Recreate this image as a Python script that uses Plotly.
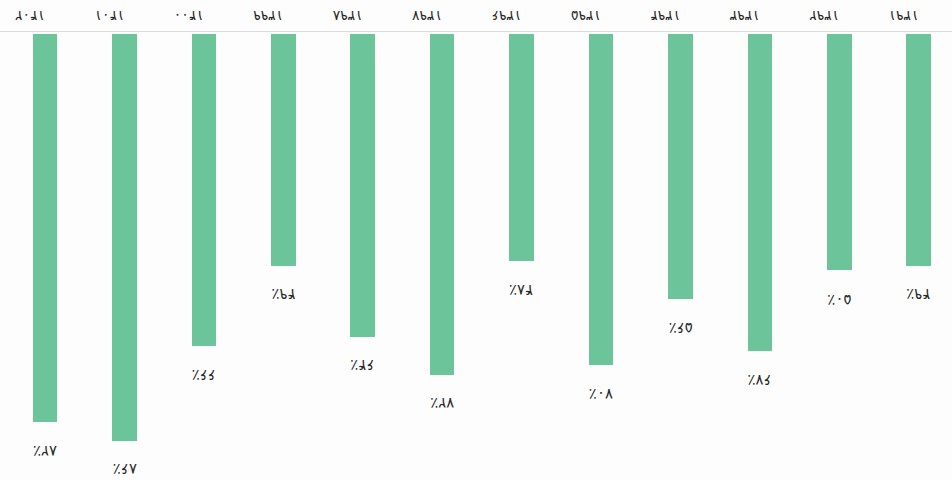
import plotly.graph_objects as go

# Years (solar Hijri) and share per year, in percent
years = [1391, 1392, 1393, 1394, 1395, 1396, 1397, 1398, 1399, 1400, 1401, 1402]
shares = [49, 50, 67, 56, 70, 48, 72, 64, 49, 66, 86, 82]

FA_DIGITS = str.maketrans("0123456789", "۰۱۲۳۴۵۶۷۸۹")


def fa(n):
    return str(n).translate(FA_DIGITS)


year_labels = [fa(y) for y in years]
value_labels = [fa(v) + "٪" for v in shares]

BAR = "#6cc49b"
TEXT = "#2a2a2a"
FONT = "DejaVu Sans"

fig = go.Figure(
    go.Bar(
        x=year_labels,
        y=shares,
        width=0.31,
        marker=dict(color=BAR, line=dict(width=0)),
        hoverinfo="skip",
    )
)

# value labels just past the end of each bar, drawn upside down
for lbl, v, t in zip(year_labels, shares, value_labels):
    fig.add_annotation(
        x=lbl, y=v, xref="x", yref="y",
        text=t, showarrow=False, textangle=180,
        yshift=-29, yanchor="middle",
        font=dict(family=FONT, size=15, color=TEXT),
    )

fig.update_layout(
    width=952, height=480,
    margin=dict(l=0, r=0, t=32, b=0),
    paper_bgcolor="#fdfdfd",
    plot_bgcolor="#fdfdfd",
    showlegend=False,
    bargap=0,
    xaxis=dict(
        type="category",
        range=[11.567, -0.42],
        side="top",
        tickangle=180,
        showline=True, linecolor="#dcdcdc", linewidth=1,
        showgrid=False, ticks="",
        tickfont=dict(family=FONT, size=14, color=TEXT),
    ),
    yaxis=dict(
        range=[94.3, -0.42],
        visible=False,
        showgrid=False, zeroline=False,
    ),
)

fig.write_html("out.html")
